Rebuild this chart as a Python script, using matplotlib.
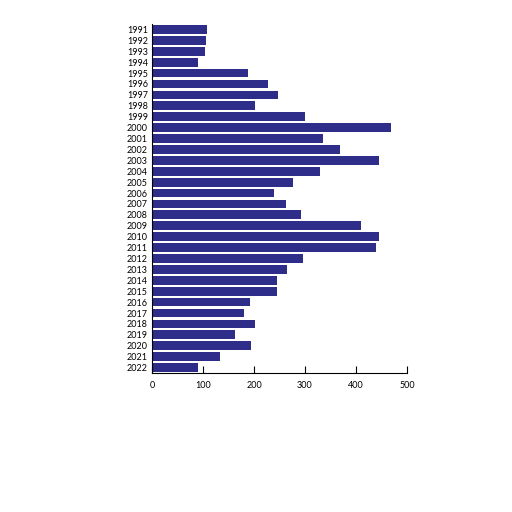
import matplotlib
matplotlib.use("Agg")
import matplotlib.pyplot as plt
plt.rcParams['font.family'] = ['Lato', 'DejaVu Sans']

years = [str(y) for y in range(1991, 2023)]
values = [108,106,104,90,188,227,247,202,300,469,335,369,445,329,276,239,263,292,410,445,439,296,265,245,245,192,180,202,163,194,133,90]

fig = plt.figure(figsize=(5.12,5.12), dpi=100)
ax = fig.add_axes([152/512, 1-373/512, 255/512, 349/512])
ax.barh(years, values, color="#2e2d8a", height=0.8)
ax.set_xlim(0, 500)
ax.set_ylim(len(years)-0.5, -0.5)
ax.set_xticks([0,100,200,300,400,500])
for s in ["top","right"]:
    ax.spines[s].set_visible(False)
ax.tick_params(axis='x', labelsize=6.5, length=5, direction='in', pad=6)
ax.tick_params(axis='y', labelsize=6.5, length=0, pad=3)
fig.savefig("out.png", dpi=100)
